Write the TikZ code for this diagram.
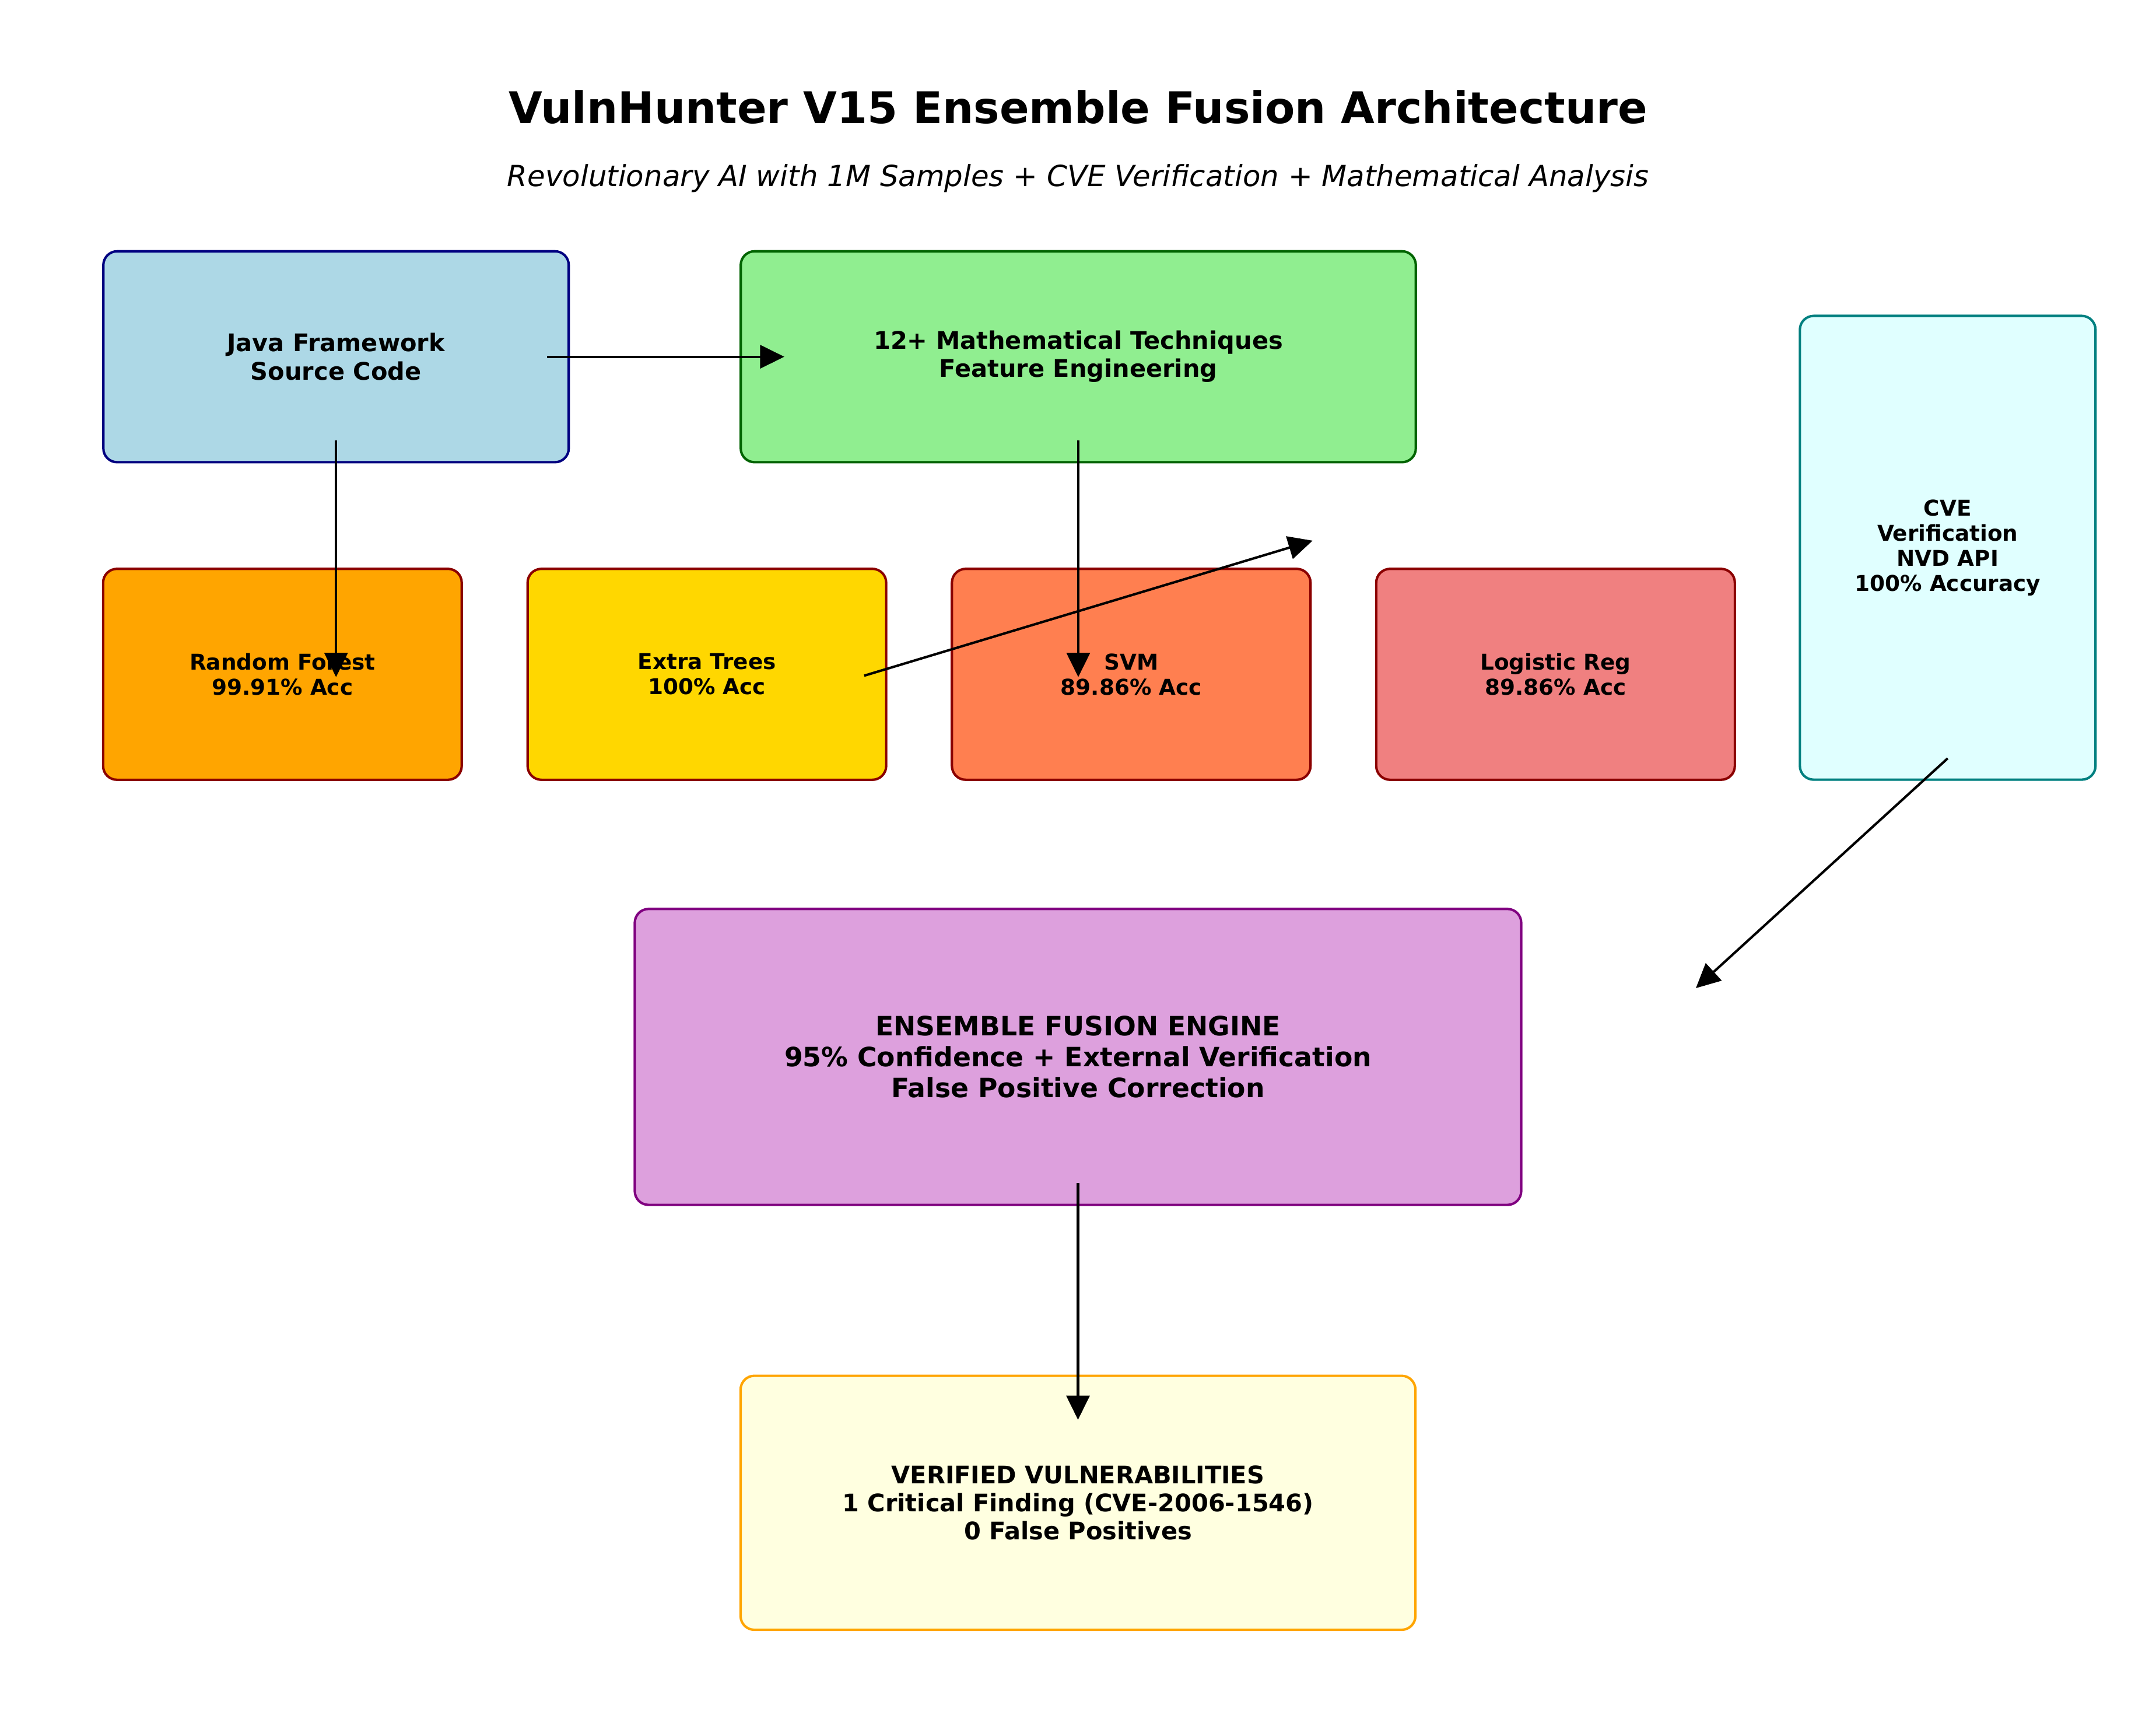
\documentclass[tikz,border=0pt]{standalone}
\usepackage{fontspec}
\setmainfont{DejaVu Sans}
\usetikzlibrary{arrows.meta,calc}

\definecolor{srcfill}{HTML}{ADD8E6}
\definecolor{srcline}{HTML}{000080}
\definecolor{featfill}{HTML}{90EE90}
\definecolor{featline}{HTML}{006400}
\definecolor{cvefill}{HTML}{E0FFFF}
\definecolor{cveline}{HTML}{008080}
\definecolor{rffill}{HTML}{FFA500}
\definecolor{etfill}{HTML}{FFD700}
\definecolor{svmfill}{HTML}{FF7F50}
\definecolor{lrfill}{HTML}{F08080}
\definecolor{modelline}{HTML}{8B0000}
\definecolor{ensfill}{HTML}{DDA0DD}
\definecolor{ensline}{HTML}{800080}
\definecolor{verfill}{HTML}{FFFFE0}
\definecolor{verline}{HTML}{FFA500}

\begin{document}
\begin{tikzpicture}[
  x=0.019962cm, y=-0.019962cm,
  box/.style={draw, rounded corners=5.7pt, line width=1pt, align=center,
              inner sep=0pt, outer sep=0pt,
              font=\bfseries\fontsize{10}{11.6}\selectfont},
  model/.style={box, draw=modelline, minimum width=148.1pt, minimum height=87.1pt,
                font=\bfseries\fontsize{9}{10.4}\selectfont},
  arr/.style={-{Triangle[length=10pt, width=9.6pt]}, line width=1pt}
]
\useasboundingbox (0,0) rectangle (1568,1260);

\node[anchor=base, font=\bfseries\fontsize{18}{21.6}\selectfont] (title) at (784,89.8)
  {VulnHunter V15 Ensemble Fusion Architecture};
\node[anchor=base, font=\itshape\fontsize{12}{14.4}\selectfont] (subtitle) at (784,135.7)
  {Revolutionary AI with 1M Samples + CVE Verification + Mathematical Analysis};

\node[box, fill=srcfill, draw=srcline, minimum width=192.2pt, minimum height=87.1pt]
  (java) at (244.4,259.4) {Java Framework\\Source Code};
\node[box, fill=featfill, draw=featline, minimum width=278.8pt, minimum height=87.1pt]
  (math) at (784.2,259.4) {12+ Mathematical Techniques\\Feature Engineering};
\node[box, fill=cvefill, draw=cveline, minimum width=122.1pt, minimum height=191.5pt,
      font=\bfseries\fontsize{9}{10.4}\selectfont]
  (cve) at (1416.5,398.3) {CVE\\Verification\\NVD API\\100\% Accuracy};

\node[model, fill=rffill]  (rf)  at (205.4,490.3)  {Random Forest\\99.91\% Acc};
\node[model, fill=etfill]  (et)  at (514.1,490.3)  {Extra Trees\\100\% Acc};
\node[model, fill=svmfill] (svm) at (822.7,490.3)  {SVM\\89.86\% Acc};
\node[model, fill=lrfill]  (lr)  at (1131.3,490.3) {Logistic Reg\\89.86\% Acc};

\node[box, fill=ensfill, draw=ensline, minimum width=366.1pt, minimum height=122.2pt,
      font=\bfseries\fontsize{11}{12.8}\selectfont]
  (ens) at (784,768.5) {ENSEMBLE FUSION ENGINE\\95\% Confidence + External Verification\\False Positive Correction};
\node[box, fill=verfill, draw=verline, minimum width=278.7pt, minimum height=104.9pt]
  (ver) at (784,1092.7) {VERIFIED VULNERABILITIES\\1 Critical Finding (CVE-2006-1546)\\0 False Positives};

\draw[arr] ($(java.east)+(-16,0)$) -- ($(math.west)+(31.7,0)$);
\draw[arr] ($(java.south)+(0,-15.7)$) -- ($(java.south |- rf.center)+(0,2)$);
\draw[arr] ($(math.south)+(0,-15.7)$) -- ($(math.south |- svm.center)+(0,2)$);
\draw[arr] ($(et.east)+(-16,1)$) -- ($(svm.north east)+(1.5,-20.5)$);
\draw[arr] ($(cve.south)+(0,-15.5)$) -- ($(ens.east)+(127,-50)$);
\draw[arr] ($(ens.south)+(0,-16)$) -- ($(ver.north)+(0,32)$);
\end{tikzpicture}
\end{document}
